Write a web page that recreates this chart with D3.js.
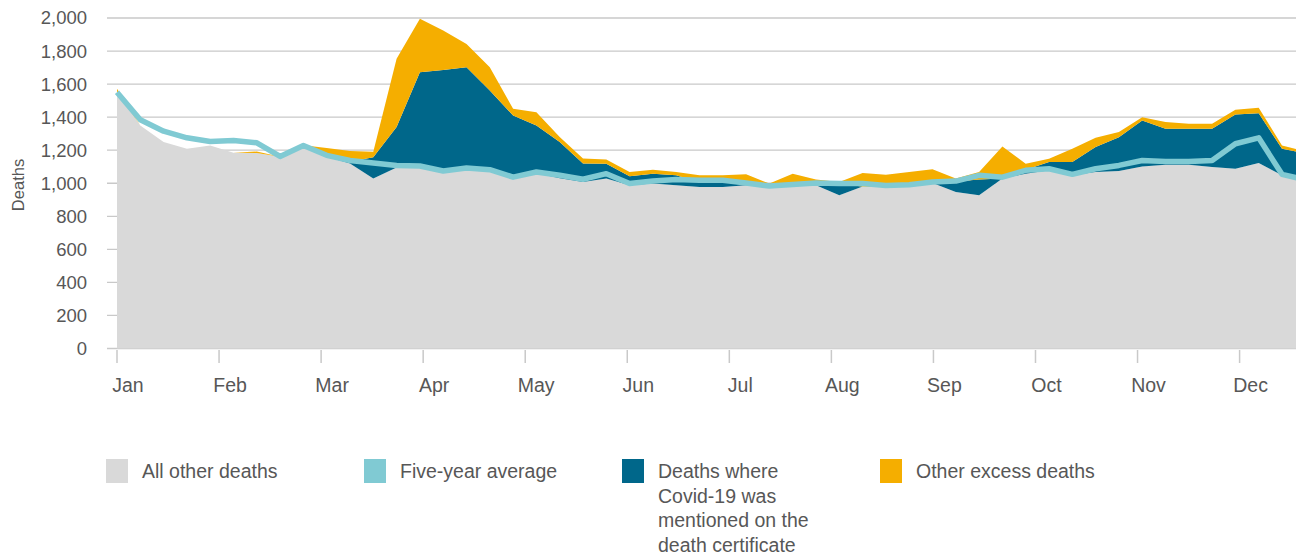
<!DOCTYPE html>
<html>
<head>
<meta charset="utf-8">
<script src="https://cdnjs.cloudflare.com/ajax/libs/d3/7.8.5/d3.min.js"></script>
<style>
  body { margin: 0; background: #fff; }
  svg text { font-family: "Liberation Sans", Arial, sans-serif; fill: #575757; }
</style>
</head>
<body>
<svg width="1296" height="554"></svg>
<script>
// weekly deaths, week 1 = first week of Jan
var months = ["Jan", "Feb", "Mar", "Apr", "May", "Jun", "Jul", "Aug", "Sep", "Oct", "Nov", "Dec"];

var allOther = [1555, 1350, 1250, 1209, 1229, 1185, 1183, 1160, 1225, 1160, 1120, 1028, 1095, 1095, 1065, 1085,
  1075, 1030, 1060, 1030, 1007, 1028, 988, 998, 988, 977, 977, 988, 977, 983, 988, 927,
  981, 977, 981, 1001, 947, 927, 1028, 1058, 1078, 1048, 1068, 1074, 1101, 1112, 1112, 1098,
  1088, 1122, 1048, 1010];

var covid = [0, 0, 0, 0, 0, 0, 0, 0, 0, 0, 10, 130, 245, 577, 621, 617,
  486, 380, 290, 219, 113, 90, 54, 60, 60, 28, 28, 12, 0, 0, 2, 68,
  0, 0, 0, 0, 63, 95, 0, 24, 50, 80, 151, 205, 279, 218, 218, 232,
  328, 302, 161, 170];

var otherExcess = [17, 0, 0, 0, 0, 0, 9, 0, 5, 53, 65, 32, 413, 323, 238, 141,
  141, 41, 80, 31, 30, 25, 26, 24, 20, 43, 43, 54, 21, 75, 32, 12,
  81, 75, 87, 83, 18, 46, 195, 36, 21, 81, 56, 31, 20, 40, 30, 30,
  29, 33, 20, 12];

var fiveYearAvg = [1551, 1384, 1315, 1275, 1253, 1259, 1245, 1162, 1229, 1169, 1138, 1122, 1108, 1104, 1074, 1092,
  1082, 1037, 1068, 1048, 1024, 1058, 998, 1013, 1022, 1018, 1018, 1001, 983, 993, 1001, 998,
  998, 987, 991, 1007, 1013, 1048, 1037, 1078, 1088, 1054, 1088, 1108, 1138, 1132, 1132, 1138,
  1239, 1275, 1054, 1020];

var yTicks = [0, 200, 400, 600, 800, 1000, 1200, 1400, 1600, 1800, 2000];

var legendItems = [
  {label: ["All other deaths"], color: "#d9d9d9"},
  {label: ["Five-year average"], color: "#80cad3"},
  {label: ["Deaths where", "Covid-19 was", "mentioned on the", "death certificate"], color: "#00678a"},
  {label: ["Other excess deaths"], color: "#f5ae00"}
];

var svg = d3.select("svg"),
  width = +svg.attr("width");

var weeksPerMonth = 4.38;

var x = d3.scaleLinear()
  .domain([0, 52])
  .range([117, 117 + 52 * 23.3]);

var y = d3.scaleLinear()
  .domain([0, 2000])
  .range([348.5, 18]);

var rows = allOther.map(function(d, i) {
  return {week: i, allOther: d, covid: covid[i], otherExcess: otherExcess[i]};
});

var stack = d3.stack().keys(["allOther", "covid", "otherExcess"]);
var series = stack(rows);
var colors = {allOther: "#d9d9d9", covid: "#00678a", otherExcess: "#f5ae00"};

// gridlines
svg.append("g")
  .selectAll("line")
  .data(yTicks)
  .enter().append("line")
  .attr("x1", 107)
  .attr("x2", width)
  .attr("y1", function(d) { return y(d); })
  .attr("y2", function(d) { return y(d); })
  .attr("stroke", "#c9c9c9")
  .attr("stroke-width", 1.3);

svg.append("g")
  .selectAll("text")
  .data(yTicks)
  .enter().append("text")
  .attr("x", 87)
  .attr("y", function(d) { return y(d); })
  .attr("dy", "0.35em")
  .attr("text-anchor", "end")
  .style("font-size", "18.5px")
  .text(function(d) { return d3.format(",")(d); });

svg.append("text")
  .attr("transform", "translate(24,185) rotate(-90)")
  .attr("text-anchor", "middle")
  .style("font-size", "16.5px")
  .text("Deaths");

var area = d3.area()
  .x(function(d) { return x(d.data.week); })
  .y0(function(d) { return y(d[0]); })
  .y1(function(d) { return y(d[1]); });

svg.append("g")
  .selectAll("path")
  .data(series)
  .enter().append("path")
  .attr("fill", function(d) { return colors[d.key]; })
  .attr("d", area);

var line = d3.line()
  .x(function(d, i) { return x(i); })
  .y(function(d) { return y(d); });

svg.append("path")
  .datum(fiveYearAvg)
  .attr("fill", "none")
  .attr("stroke", "#80cad3")
  .attr("stroke-width", 5.5)
  .attr("stroke-linejoin", "round")
  .attr("d", line);

// month ticks
var monthAxis = svg.append("g");
monthAxis.selectAll("line")
  .data(months)
  .enter().append("line")
  .attr("x1", function(d, i) { return x(i * weeksPerMonth); })
  .attr("x2", function(d, i) { return x(i * weeksPerMonth); })
  .attr("y1", 350)
  .attr("y2", 363)
  .attr("stroke", "#c9c9c9")
  .attr("stroke-width", 1.5);

monthAxis.selectAll("text")
  .data(months)
  .enter().append("text")
  .attr("x", function(d, i) { return x(i * weeksPerMonth) + 11; })
  .attr("y", 392)
  .attr("text-anchor", "middle")
  .style("font-size", "19.5px")
  .text(function(d) { return d; });

// legend
var legend = svg.append("g")
  .selectAll("g")
  .data(legendItems)
  .enter().append("g")
  .attr("transform", function(d, i) { return "translate(" + (106 + i * 258) + ",459)"; });

legend.append("rect")
  .attr("width", 22)
  .attr("height", 24)
  .attr("fill", function(d) { return d.color; });

legend.append("text")
  .attr("x", 36)
  .attr("y", 19)
  .style("font-size", "19.5px")
  .selectAll("tspan")
  .data(function(d) { return d.label; })
  .enter().append("tspan")
  .attr("x", 36)
  .attr("dy", function(d, i) { return i ? 24.5 : 0; })
  .text(function(d) { return d; });
</script>
</body>
</html>
